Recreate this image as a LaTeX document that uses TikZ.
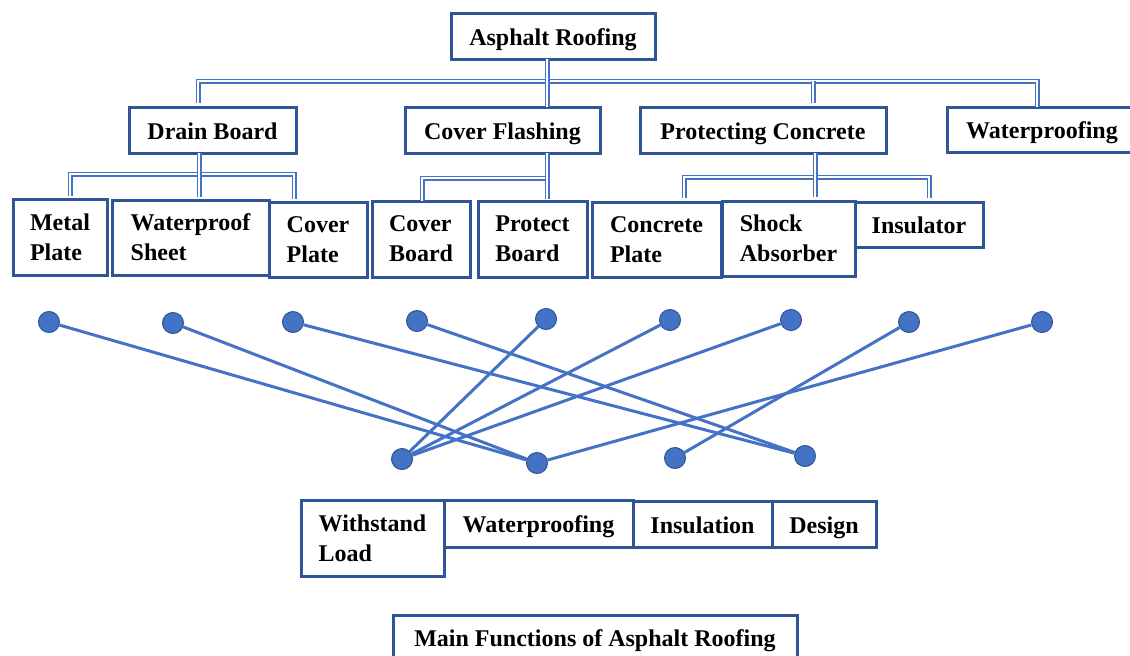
\documentclass[tikz,border=0pt]{standalone}
\usepackage{fontspec}
\setmainfont{Liberation Serif}
\definecolor{boxblue}{HTML}{2F5597}
\definecolor{linkblue}{HTML}{4472C4}
\tikzset{
  box/.style={draw=boxblue, line width=3pt, fill=white, anchor=north west, outer sep=0pt,
    inner sep=0pt, align=left, font=\fontsize{24}{30}\selectfont\bfseries},
  one/.style={text height=23pt, text depth=5pt},
  dbl/.style={draw=linkblue, line width=1.3pt, double=white, double distance=2.4pt},
  link/.style={draw=linkblue, line width=3pt},
  dot/.style={circle, fill=linkblue, draw=boxblue, line width=1pt, minimum size=21pt, inner sep=0pt}
}

\begin{document}
\begin{tikzpicture}[x=1pt,y=-1pt]
  \useasboundingbox (0,0) rectangle (1130,656);

  % hierarchy
  \node[box, one, minimum width=204, minimum height=46] (roof) at (451,13) {Asphalt Roofing};
  \node[box, one, minimum width=167, minimum height=46] (drain) at (129,107) {Drain Board};
  \node[box, one, minimum width=195, minimum height=46] (flash) at (405,107) {Cover Flashing};
  \node[box, one, minimum width=246, minimum height=46] (protect) at (640,107) {Protecting Concrete};
  \node[box, one, minimum width=190, minimum height=45] (wproof) at (947,107) {Waterproofing};

  \node[box, minimum width=94, minimum height=76] (metal) at (13,199) {Metal\\Plate};
  \node[box, minimum width=157, minimum height=75] (sheet) at (112,200) {Waterproof\\Sheet};
  \node[box, minimum width=98, minimum height=75] (coverp) at (269,202) {Cover\\Plate};
  \node[box, minimum width=98, minimum height=76] (coverb) at (372,201) {Cover\\Board};
  \node[box, minimum width=109, minimum height=76] (protb) at (478,201) {Protect\\Board};
  \node[box, minimum width=129, minimum height=75] (concp) at (592,202) {Concrete\\Plate};
  \node[box, minimum width=133, minimum height=75] (shock) at (722,201) {Shock\\Absorber};
  \node[box, one, minimum width=128, minimum height=45] (insul) at (855,202) {Insulator};

  \coordinate (busL) at (198,81);
  \coordinate (busM) at (547,81);
  \coordinate (busP) at (813,81);
  \coordinate (busR) at (1037,81);
  \draw[dbl, shorten <=4pt] (busL |- drain.north) -- (busL) -- (busR) -- (busR |- wproof.north);
  \draw[dbl] (roof.south -| busM) -- (flash.north -| busM);
  \draw[dbl, shorten >=4pt] (busP) -- (protect.north -| busP);

  \coordinate (dL) at (70,174);
  \coordinate (dM) at (199,174);
  \coordinate (dR) at (294,174);
  \draw[dbl, shorten <=3pt, shorten >=3pt] (dL |- metal.north) -- (dL) -- (dR) -- (dR |- coverp.north);
  \draw[dbl, shorten >=3pt] (drain.south -| dM) -- (sheet.north -| dM);

  \coordinate (fL) at (422,178);
  \coordinate (fM) at (547,178);
  \draw[dbl] (fL |- coverb.north) -- (fL) -- (fM);
  \draw[dbl, shorten >=2pt] (flash.south -| fM) -- (protb.north -| fM);

  \coordinate (pL) at (684,177);
  \coordinate (pM) at (815,177);
  \coordinate (pR) at (929,177);
  \draw[dbl, shorten <=4pt, shorten >=4pt] (pL |- concp.north) -- (pL) -- (pR) -- (pR |- insul.north);
  \draw[dbl, shorten >=4pt] (protect.south -| pM) -- (shock.north -| pM);

  % dots and links
  \foreach \n/\x/\y in {t1/49/322,t2/173/323,t3/293/322,t4/417/321,t5/546/319,
      t6/670/320,t7/791/320,t8/909/322,t9/1042/322,b1/402/459,b2/537/463,b3/675/458,b4/805/456}
    \node[dot] (\n) at (\x,\y) {};
  \foreach \a/\b in {t1/b2,t2/b2,t3/b4,t4/b4,t5/b1,t6/b1,t7/b1,t8/b3,t9/b2}
    \draw[link] (\a) -- (\b);

  % functions
  \node[box, minimum width=143, minimum height=76] (load) at (301,500) {Withstand\\Load};
  \node[box, one, minimum width=189, minimum height=47] (fwater) at (444,500) {Waterproofing};
  \node[box, one, minimum width=139, minimum height=46] (finsul) at (633,501) {Insulation};
  \node[box, one, minimum width=104, minimum height=46] (fdesign) at (772,501) {Design};

  \node[box, minimum width=404, text height=31pt, text depth=40pt] (title) at (393,615) {Main Functions of Asphalt Roofing};
\end{tikzpicture}
\end{document}
